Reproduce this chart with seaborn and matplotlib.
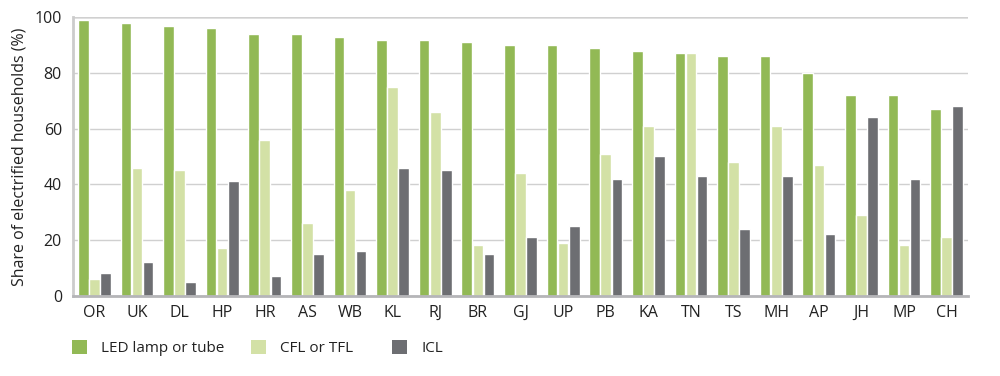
import matplotlib
matplotlib.use("Agg")
import matplotlib.pyplot as plt
from matplotlib.patches import Patch
import seaborn as sns
import pandas as pd
import numpy as np

states = ["OR", "UK", "DL", "HP", "HR", "AS", "WB", "KL", "RJ", "BR", "GJ",
          "UP", "PB", "KA", "TN", "TS", "MH", "AP", "JH", "MP", "CH"]
led = [99, 98, 97, 96, 94, 94, 93, 92, 92, 91, 90, 90, 89, 88, 87, 86, 86, 80, 72, 72, 67]
cfl = [6, 46, 45, 17, 56, 26, 38, 75, 66, 18, 44, 19, 51, 61, 87, 48, 61, 47, 29, 18, 21]
icl = [8, 12, 5, 41, 7, 15, 16, 46, 45, 15, 21, 25, 42, 50, 43, 24, 43, 22, 64, 42, 68]
series = ["LED lamp or tube", "CFL or TFL", "ICL"]
colors = ["#92B955", "#D3E1A6", "#6D6E72"]

df = pd.DataFrame({
    "state": states * 3,
    "type": [series[0]] * len(states) + [series[1]] * len(states) + [series[2]] * len(states),
    "value": led + cfl + icl,
})

sns.set_style("white")
plt.rcParams["font.family"] = ["Open Sans", "DejaVu Sans"]

fig = plt.figure(figsize=(10, 3.76), dpi=100)
ax = fig.add_axes([0.073, 0.214, 0.895, 0.740])

sns.barplot(data=df, x="state", y="value", hue="type", order=states,
            hue_order=series, palette=colors, width=0.78, gap=0.04,
            saturation=1, ax=ax, legend=False)

ax.set_ylim(0, 100)
ax.set_xlim(-0.5, len(states) - 0.5)
ax.set_yticks([0, 20, 40, 60, 80, 100])
ax.yaxis.grid(True, color="#D0D0D0", linewidth=1)
ax.set_axisbelow(True)
for sp in ["top", "right"]:
    ax.spines[sp].set_visible(False)
ax.spines["left"].set_color("#CCCCCC")
ax.spines["left"].set_linewidth(2)
ax.spines["bottom"].set_color("#B5B5B8")
ax.spines["bottom"].set_linewidth(2)
ax.axhline(100, color="#E2E2E2", linewidth=2, zorder=0.5)

ax.tick_params(axis="both", which="major", length=0, labelsize=11.5, colors="#222222")
ax.tick_params(axis="y", pad=8)
ax.tick_params(axis="x", pad=7)
ax.set_xticks(np.arange(-0.5, len(states)), minor=True)
ax.tick_params(axis="x", which="minor", direction="in", length=5, width=1.5, color="#B5B5B8")
ax.set_xlabel("")
ax.set_ylabel("Share of electrified households (%)", fontsize=11.5, color="#222222", labelpad=5)

# legend entries placed individually (square left edges at ~72, 251, 392 px)
legend_x = [0.072, 0.251, 0.392]
for s, c, lx in zip(series, colors, legend_x):
    h = Patch(facecolor=c, edgecolor="none", label=s)
    fig.legend(handles=[h], loc="center left", bbox_to_anchor=(lx, 1 - 348 / 376),
               frameon=False, fontsize=11, handlelength=1.0, handleheight=1.0,
               handletextpad=0.9, borderpad=0, borderaxespad=0, labelcolor="#222222")

fig.savefig("out.png", dpi=100)
